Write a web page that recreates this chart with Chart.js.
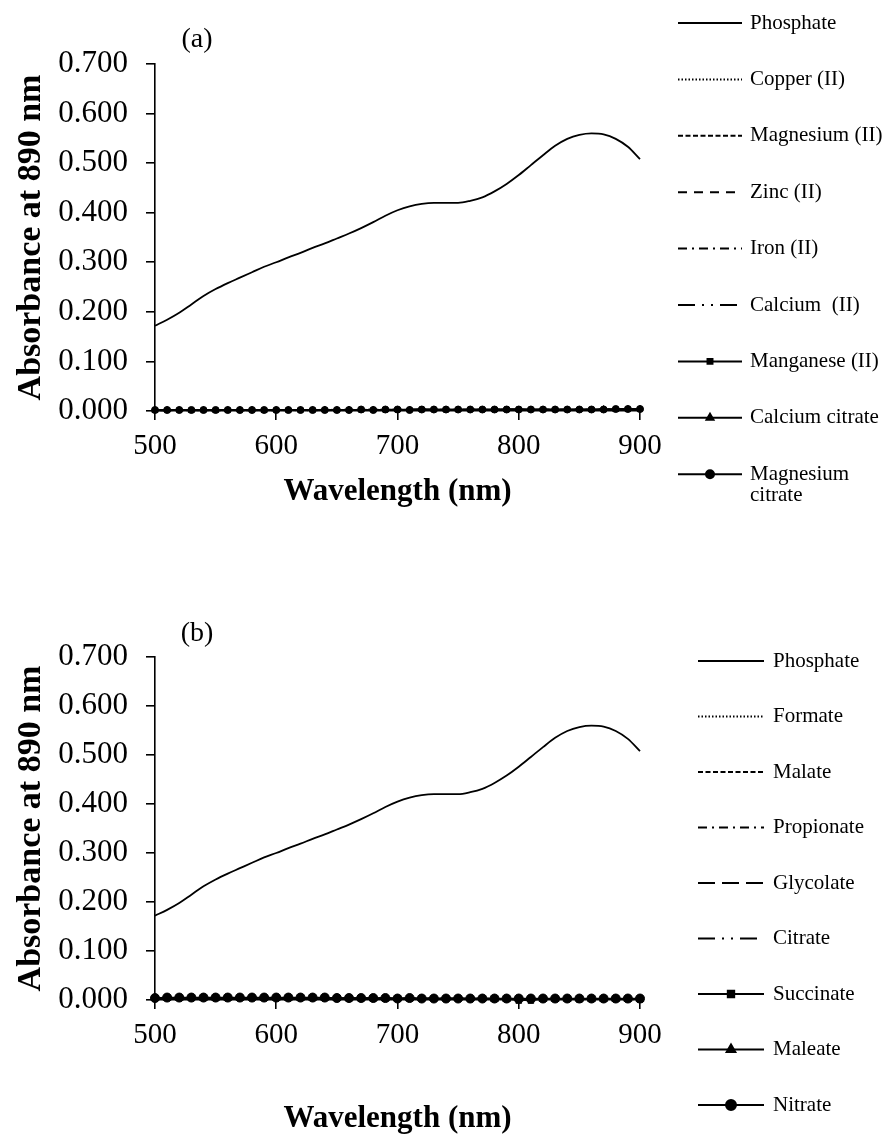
<!DOCTYPE html>
<html>
<head>
<meta charset="utf-8">
<title>Absorbance spectra</title>
<script src="https://cdn.jsdelivr.net/npm/chart.js@4.4.1/dist/chart.umd.min.js"></script>
<style>
  html, body { margin: 0; padding: 0; background: #fff; }
  #wrap { position: relative; width: 883px; height: 1142px; }
  canvas { position: absolute; left: 0; }
  #chartA { top: 0; }
  #chartB { top: 580px; }
</style>
</head>
<body>
<div id="wrap">
  <canvas id="chartA" width="883" height="560"></canvas>
  <canvas id="chartB" width="883" height="562"></canvas>
</div>
<script>
// Wavelength grid (nm) and axis tick labels
const wavelengths = [500,510,520,530,540,550,560,570,580,590,600,610,620,630,640,650,660,670,680,690,700,
                     710,720,730,740,750,760,770,780,790,800,810,820,830,840,850,860,870,880,890,900];
const xTickLabels = ['500','600','700','800','900'];
const yTickLabels = ['0.000','0.100','0.200','0.300','0.400','0.500','0.600','0.700'];

// Phosphate spectrum (shared by both panels)
const phosphate = [0.172,0.184,0.198,0.215,0.232,0.246,0.258,0.269,0.280,0.291,0.300,0.310,0.319,0.329,0.338,
                   0.348,0.358,0.369,0.381,0.394,0.405,0.413,0.418,0.420,0.420,0.420,0.424,0.431,0.443,0.458,
                   0.476,0.496,0.516,0.535,0.549,0.557,0.560,0.558,0.549,0.533,0.508];

// Panel (a): metal ions and citrates
const copper     = [0.002,0.002,0.001,0.002,0.002,0.001,0.002,0.002,0.001,0.002,0.002,0.002,0.001,0.002,0.002,0.002,0.003,0.002,0.002,0.002,0.003,
                    0.002,0.003,0.002,0.002,0.003,0.002,0.002,0.003,0.002,0.003,0.003,0.002,0.003,0.002,0.003,0.003,0.002,0.003,0.003,0.003];
const magnesium  = [0.001,0.002,0.002,0.001,0.002,0.002,0.002,0.001,0.002,0.002,0.001,0.002,0.002,0.002,0.002,0.003,0.002,0.002,0.003,0.002,0.002,
                    0.003,0.002,0.003,0.003,0.002,0.003,0.003,0.002,0.003,0.003,0.002,0.003,0.003,0.003,0.002,0.003,0.003,0.003,0.003,0.004];
const zinc       = [0.002,0.001,0.002,0.002,0.001,0.002,0.001,0.002,0.002,0.002,0.001,0.002,0.002,0.001,0.002,0.002,0.002,0.003,0.002,0.002,0.002,
                    0.003,0.003,0.002,0.003,0.002,0.002,0.003,0.003,0.003,0.002,0.003,0.003,0.002,0.003,0.003,0.003,0.003,0.002,0.003,0.003];
const iron       = [0.001,0.001,0.002,0.001,0.002,0.001,0.002,0.002,0.001,0.002,0.002,0.001,0.002,0.002,0.002,0.002,0.002,0.002,0.003,0.002,0.003,
                    0.002,0.002,0.003,0.002,0.003,0.003,0.002,0.003,0.003,0.003,0.002,0.003,0.003,0.003,0.003,0.002,0.003,0.003,0.004,0.003];
const calcium    = [0.002,0.002,0.002,0.001,0.001,0.002,0.002,0.001,0.002,0.001,0.002,0.002,0.002,0.002,0.001,0.002,0.002,0.002,0.002,0.003,0.002,
                    0.002,0.003,0.003,0.002,0.002,0.003,0.003,0.003,0.002,0.003,0.003,0.003,0.002,0.003,0.003,0.003,0.004,0.003,0.003,0.004];
const manganese  = [0.002,0.002,0.002,0.002,0.002,0.002,0.002,0.001,0.002,0.002,0.002,0.002,0.002,0.002,0.002,0.002,0.002,0.002,0.003,0.002,0.002,
                    0.003,0.004,0.003,0.003,0.003,0.003,0.003,0.003,0.004,0.004,0.003,0.003,0.003,0.003,0.003,0.003,0.003,0.004,0.004,0.004];
const calciumCitrate = [0.001,0.002,0.002,0.001,0.002,0.001,0.002,0.002,0.002,0.001,0.002,0.002,0.002,0.002,0.003,0.002,0.003,0.002,0.003,0.002,0.003,
                    0.003,0.003,0.003,0.002,0.003,0.003,0.003,0.003,0.003,0.003,0.003,0.003,0.003,0.003,0.003,0.003,0.004,0.003,0.004,0.004];
const magnesiumCitrate = [0.002,0.002,0.002,0.002,0.002,0.002,0.002,0.002,0.002,0.002,0.002,0.002,0.002,0.002,0.002,0.002,0.002,0.003,0.002,0.003,0.003,
                    0.002,0.003,0.003,0.003,0.003,0.003,0.003,0.003,0.003,0.003,0.003,0.003,0.003,0.003,0.003,0.003,0.003,0.004,0.004,0.004];

// Panel (b): organic anions and nitrate
const formate    = [0.004,0.004,0.004,0.004,0.004,0.004,0.004,0.005,0.004,0.004,0.004,0.004,0.004,0.004,0.004,0.004,0.003,0.004,0.003,0.003,0.003,
                    0.003,0.003,0.003,0.003,0.003,0.003,0.003,0.003,0.002,0.002,0.002,0.002,0.002,0.002,0.002,0.002,0.002,0.002,0.002,0.002];
const malate     = [0.004,0.005,0.004,0.004,0.005,0.004,0.004,0.004,0.005,0.004,0.004,0.004,0.004,0.004,0.004,0.003,0.004,0.003,0.003,0.003,0.003,
                    0.003,0.003,0.003,0.003,0.003,0.002,0.003,0.003,0.002,0.002,0.002,0.002,0.002,0.002,0.002,0.002,0.002,0.002,0.002,0.002];
const propionate = [0.005,0.004,0.004,0.005,0.004,0.004,0.005,0.004,0.004,0.004,0.004,0.005,0.004,0.004,0.004,0.004,0.004,0.003,0.003,0.004,0.003,
                    0.003,0.003,0.003,0.003,0.002,0.003,0.003,0.002,0.003,0.002,0.002,0.002,0.002,0.002,0.002,0.002,0.002,0.002,0.002,0.001];
const glycolate  = [0.004,0.004,0.005,0.004,0.004,0.005,0.004,0.004,0.004,0.005,0.004,0.004,0.004,0.004,0.004,0.004,0.003,0.004,0.003,0.003,0.003,
                    0.003,0.003,0.003,0.003,0.003,0.003,0.002,0.003,0.002,0.002,0.002,0.002,0.002,0.002,0.002,0.002,0.002,0.001,0.002,0.002];
const citrate    = [0.005,0.004,0.004,0.004,0.004,0.005,0.004,0.004,0.004,0.004,0.005,0.004,0.004,0.004,0.004,0.003,0.004,0.004,0.003,0.003,0.003,
                    0.003,0.003,0.003,0.003,0.003,0.003,0.003,0.002,0.003,0.002,0.002,0.002,0.002,0.002,0.002,0.002,0.002,0.002,0.001,0.002];
const succinate  = [0.004,0.004,0.004,0.004,0.004,0.004,0.004,0.004,0.004,0.004,0.004,0.004,0.004,0.004,0.004,0.004,0.003,0.003,0.003,0.003,0.003,
                    0.003,0.003,0.003,0.002,0.003,0.002,0.003,0.002,0.002,-0.001,-0.001,0.002,0.002,0.002,0.001,0.002,0.002,0.002,0.002,0.001];
const maleate    = [0.004,0.004,0.004,0.005,0.004,0.004,0.004,0.004,0.005,0.004,0.004,0.004,0.004,0.004,0.004,0.004,0.003,0.003,0.003,0.003,0.003,
                    0.003,0.003,0.003,0.003,0.003,0.003,0.003,0.002,0.002,0.002,0.002,0.002,0.002,0.002,0.002,0.002,0.002,0.002,0.002,0.002];
const nitrate    = [0.004,0.005,0.005,0.005,0.005,0.005,0.005,0.005,0.005,0.005,0.005,0.005,0.005,0.005,0.005,0.004,0.004,0.004,0.004,0.004,0.003,
                    0.004,0.003,0.003,0.003,0.003,0.003,0.003,0.003,0.003,0.003,0.003,0.003,0.003,0.003,0.003,0.003,0.003,0.003,0.003,0.003];

const FONT = "'Liberation Serif', 'Times New Roman', serif";

function xy(values) {
  return values.map((v, i) => ({ x: wavelengths[i], y: v }));
}

function series(label, values, dash, style, radius, width) {
  return {
    label: label,
    data: xy(values),
    borderColor: '#000',
    backgroundColor: '#000',
    borderWidth: width || 1.6,
    borderDash: dash || [],
    pointStyle: style || 'circle',
    pointRadius: style ? radius : 0,
    pointHoverRadius: 0,
    pointBorderWidth: 1,
    cubicInterpolationMode: 'monotone',
    clip: false
  };
}

// Legend column drawn at the right of each panel, plus the panel tag
const sideLegend = {
  id: 'sideLegend',
  afterDraw(chart, args, opts) {
    const ctx = chart.ctx;
    ctx.save();
    chart.data.datasets.forEach((ds, i) => {
      const y = opts.top + i * opts.step;
      ctx.strokeStyle = '#000';
      ctx.lineWidth = 2;
      ctx.setLineDash(ds.borderDash || []);
      ctx.beginPath();
      ctx.moveTo(opts.x0, y);
      ctx.lineTo(opts.x1, y);
      ctx.stroke();
      ctx.setLineDash([]);
      if (ds.pointRadius > 0) {
        ctx.fillStyle = '#000';
        Chart.helpers.drawPoint(ctx, {
          pointStyle: ds.pointStyle, radius: ds.pointRadius + 0.5, rotation: 0, borderWidth: 1
        }, (opts.x0 + opts.x1) / 2, y);
      }
      ctx.fillStyle = '#000';
      ctx.font = opts.fontSize + 'px ' + FONT;
      ctx.textAlign = 'left';
      ctx.textBaseline = 'middle';
      const lines = Array.isArray(ds.label) ? ds.label : [ds.label];
      lines.forEach((t, k) => ctx.fillText(t, opts.textX, y + k * opts.fontSize));
    });
    ctx.font = opts.tagSize + 'px ' + FONT;
    ctx.textAlign = 'center';
    ctx.textBaseline = 'middle';
    ctx.fillText(opts.tag, opts.tagX, opts.tagY);
    ctx.restore();
  }
};

const whiteBg = {
  id: 'whiteBg',
  beforeDraw(chart) {
    const ctx = chart.ctx;
    ctx.save();
    ctx.fillStyle = '#fff';
    ctx.fillRect(0, 0, chart.width, chart.height);
    ctx.restore();
  }
};

function makeOptions(cfg) {
  return {
    responsive: false,
    animation: false,
    devicePixelRatio: 1,
    layout: { padding: { left: 0, right: 243, top: cfg.top, bottom: cfg.bottom } },
    plugins: {
      legend: { display: false },
      tooltip: { enabled: false },
      sideLegend: cfg.legend
    },
    scales: {
      x: {
        type: 'linear', min: 500, max: 900,
        afterFit: s => { s.height = cfg.xHeight; },
        ticks: {
          stepSize: 100, padding: 9, color: '#000',
          font: { family: FONT, size: 29 },
          callback: (v, i) => xTickLabels[i]
        },
        grid: { display: true, drawOnChartArea: false, drawTicks: true, tickLength: 9, color: '#000', lineWidth: 1.6 },
        border: { display: true, color: '#000', width: 1.6 },
        title: { display: true, text: 'Wavelength (nm)', color: '#000', padding: { top: 0, bottom: 0 },
                 font: { family: FONT, size: 31, weight: 'bold' } }
      },
      y: {
        min: 0, max: 0.7,
        afterFit: s => { s.width = 155; },
        ticks: {
          stepSize: 0.1, padding: 18, color: '#000',
          font: { family: FONT, size: 31 },
          callback: (v, i) => yTickLabels[i]
        },
        grid: { display: true, drawOnChartArea: false, drawTicks: true, tickLength: 9, color: '#000', lineWidth: 1.6 },
        border: { display: true, color: '#000', width: 1.6 },
        title: { display: true, text: 'Absorbance at 890 nm', color: '#000', padding: { top: 11, bottom: 0 },
                 font: { family: FONT, size: 34, weight: 'bold' } }
      }
    }
  };
}

new Chart(document.getElementById('chartA'), {
  type: 'line',
  data: {
    datasets: [
      series('Phosphate', phosphate, [], null, 0, 1.8),
      series('Copper (II)', copper, [1.5, 2]),
      series('Magnesium (II)', magnesium, [5, 2.5]),
      series('Zinc (II)', zinc, [9, 7]),
      series('Iron (II)', iron, [9, 5, 2, 5]),
      series('Calcium  (II)', calcium, [17, 7, 2, 7, 2, 7]),
      series('Manganese (II)', manganese, [], 'rect', 3),
      series('Calcium citrate', calciumCitrate, [], 'triangle', 3.5),
      series(['Magnesium', 'citrate'], magnesiumCitrate, [], 'circle', 3.5)
    ]
  },
  options: makeOptions({
    top: 64, bottom: 49, xHeight: 100,
    legend: { x0: 678, x1: 742, textX: 750, top: 23, step: 56.4, fontSize: 21,
              tag: '(a)', tagSize: 28, tagX: 197, tagY: 40 }
  }),
  plugins: [whiteBg, sideLegend]
});

new Chart(document.getElementById('chartB'), {
  type: 'line',
  data: {
    datasets: [
      series('Phosphate', phosphate, [], null, 0, 1.8),
      series('Formate', formate, [1.5, 2]),
      series('Malate', malate, [5, 2.5]),
      series('Propionate', propionate, [9, 5, 2, 5]),
      series('Glycolate', glycolate, [17, 7]),
      series('Citrate', citrate, [17, 7, 2, 7, 2, 7]),
      series('Succinate', succinate, [], 'rect', 4),
      series('Maleate', maleate, [], 'triangle', 4.5),
      series('Nitrate', nitrate, [], 'circle', 4.5)
    ]
  },
  options: makeOptions({
    top: 77, bottom: 4, xHeight: 138,
    legend: { x0: 698, x1: 764, textX: 773, top: 81, step: 55.5, fontSize: 21,
              tag: '(b)', tagSize: 28, tagX: 197, tagY: 54 }
  }),
  plugins: [whiteBg, sideLegend]
});
</script>
</body>
</html>
